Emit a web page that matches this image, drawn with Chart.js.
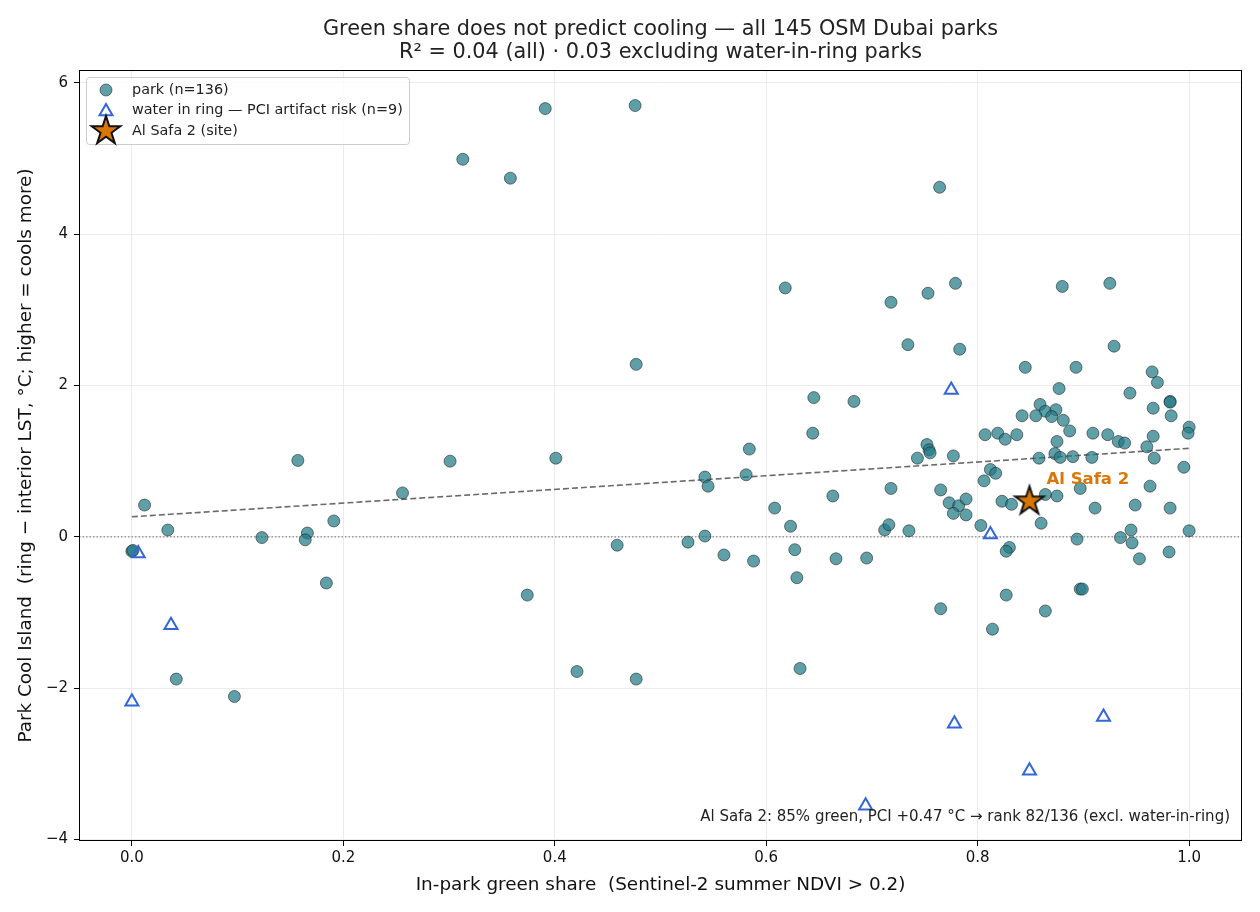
<!DOCTYPE html>
<html>
<head>
<meta charset="utf-8">
<script src="https://cdn.jsdelivr.net/npm/chart.js@4.4.1/dist/chart.umd.min.js"></script>
<style>
  html, body { margin: 0; padding: 0; background: #fff; }
  canvas { display: block; }
</style>
</head>
<body>
<canvas id="pci" width="1260" height="912"></canvas>
<script>
// ---- data ----
const parkX = [0.000, 0.001, 0.012, 0.034, 0.042, 0.097, 0.123, 0.157, 0.166, 0.164, 0.184, 0.191, 0.256,
  0.301, 0.401, 0.459, 0.526, 0.374, 0.421, 0.477, 0.391, 0.476, 0.313, 0.358, 0.477,
  0.542, 0.542, 0.545, 0.560, 0.581, 0.584, 0.588, 0.608, 0.618, 0.623, 0.627, 0.629, 0.632,
  0.644, 0.645, 0.663, 0.666, 0.683, 0.695, 0.712, 0.716, 0.718, 0.718, 0.734, 0.735,
  0.764, 0.753, 0.779, 0.783, 0.880, 0.925, 0.929, 0.845, 0.893, 0.965, 0.970, 0.877, 0.944,
  0.982, 0.982, 0.859, 0.864, 0.874, 0.842, 0.855, 0.870, 0.881, 0.966, 0.983, 1.000, 0.999,
  0.887, 0.807, 0.819, 0.826, 0.837, 0.909, 0.923, 0.933, 0.939, 0.966, 0.875, 0.960,
  0.752, 0.754, 0.755, 0.777, 0.743, 0.873, 0.878, 0.890, 0.908, 0.858, 0.967,
  0.995, 0.812, 0.817, 0.806, 0.765, 0.773, 0.782, 0.789, 0.777, 0.789, 0.803,
  0.823, 0.832, 0.864, 0.875, 0.897, 0.911, 0.860, 0.949, 0.963, 0.982, 0.945, 1.000,
  0.894, 0.935, 0.946, 0.830, 0.827, 0.953, 0.981, 0.897, 0.899, 0.827, 0.765, 0.864, 0.814];
const parkY = [-0.19, -0.18, 0.42, 0.09, -1.88, -2.11, -0.01, 1.01, 0.05, -0.04, -0.61, 0.21, 0.58,
  1.00, 1.04, -0.11, -0.07, -0.77, -1.78, -1.88, 5.66, 5.70, 4.99, 4.74, 2.28,
  0.01, 0.79, 0.67, -0.24, 0.82, 1.16, -0.32, 0.38, 3.29, 0.14, -0.17, -0.54, -1.74,
  1.37, 1.84, 0.54, -0.29, 1.79, -0.28, 0.09, 0.16, 0.64, 3.10, 2.54, 0.08,
  4.62, 3.22, 3.35, 2.48, 3.31, 3.35, 2.52, 2.24, 2.24, 2.18, 2.04, 1.96, 1.90,
  1.79, 1.78, 1.75, 1.66, 1.68, 1.60, 1.60, 1.59, 1.54, 1.70, 1.60, 1.45, 1.37,
  1.40, 1.35, 1.37, 1.29, 1.35, 1.37, 1.35, 1.26, 1.24, 1.33, 1.26, 1.19,
  1.22, 1.15, 1.11, 1.07, 1.04, 1.10, 1.05, 1.06, 1.05, 1.04, 1.04,
  0.92, 0.89, 0.84, 0.74, 0.62, 0.45, 0.41, 0.50, 0.31, 0.29, 0.15,
  0.47, 0.43, 0.56, 0.54, 0.64, 0.38, 0.18, 0.42, 0.67, 0.38, 0.09, 0.08,
  -0.03, -0.01, -0.08, -0.14, -0.19, -0.29, -0.20, -0.69, -0.69, -0.77, -0.95, -0.98, -1.22];

const waterX = [0.006, 0.037, 0.000, 0.694, 0.775, 0.778, 0.812, 0.849, 0.919];
const waterY = [-0.22, -1.17, -2.18, -3.555, 1.94, -2.47, 0.03, -3.09, -2.38];

const siteX = [0.849];
const siteY = [0.47];

const trendX = [0.0, 1.0];
const trendY = [0.265, 1.17];

const xTicks = [0.0, 0.2, 0.4, 0.6, 0.8, 1.0];
const yTicks = [-4, -2, 0, 2, 4, 6];
const xRange = [-0.05, 1.05];
const yRange = [-4.02, 6.17];

const titleLines = ['Green share does not predict cooling \u2014 all 145 OSM Dubai parks',
                    'R\u00b2 = 0.04 (all) \u00b7 0.03 excluding water-in-ring parks'];
const legendLabels = ['park (n=136)', 'water in ring \u2014 PCI artifact risk (n=9)', 'Al Safa 2 (site)'];
const siteLabel = 'Al Safa 2';
const noteText = 'Al Safa 2: 85% green, PCI +0.47 \u00b0C \u2192 rank 82/136 (excl. water-in-ring)';

// ---- styling ----
const FONT = '"DejaVu Sans", sans-serif';
const parkFill = 'rgba(32,122,134,0.72)';
const parkEdge = 'rgba(30,30,30,0.7)';
const waterColor = '#3366dd';
const siteColor = '#d97706';

const zip = (xs, ys) => xs.map((x, i) => ({ x: x, y: ys[i] }));

function makeStar(R, fill, stroke, lw) {
  const s = Math.ceil(2 * R + 14);
  const c = document.createElement('canvas');
  c.width = s; c.height = s;
  const g = c.getContext('2d');
  g.translate(s / 2, s / 2);
  g.beginPath();
  for (let i = 0; i < 10; i++) {
    const r = i % 2 ? R * 0.382 : R;
    const a = -Math.PI / 2 + i * Math.PI / 5;
    g.lineTo(r * Math.cos(a), r * Math.sin(a));
  }
  g.closePath();
  g.fillStyle = fill; g.fill();
  g.lineWidth = lw; g.lineJoin = 'miter'; g.strokeStyle = stroke; g.stroke();
  return c;
}
const starImg = makeStar(15, siteColor, '#111', 2);

// titles, frame, legend and text notes
const overlay = {
  id: 'overlay',
  afterDraw(chart) {
    const { ctx, chartArea: a } = chart;
    const xs = chart.scales.x, ys = chart.scales.y;
    ctx.save();

    ctx.strokeStyle = '#000';
    ctx.lineWidth = 1;
    ctx.strokeRect(a.left + 0.5, a.top + 0.5, a.right - a.left - 1, a.bottom - a.top - 1);

    ctx.fillStyle = '#222';
    ctx.textAlign = 'center';
    ctx.textBaseline = 'middle';
    ctx.font = '20.8px ' + FONT;
    const cx = (a.left + a.right) / 2;
    ctx.fillText(titleLines[0], cx, 30);
    ctx.fillText(titleLines[1], cx, 53);

    // legend box
    ctx.beginPath();
    ctx.roundRect(86.5, 77.5, 323, 67, 3);
    ctx.fillStyle = 'rgba(255,255,255,0.8)';
    ctx.fill();
    ctx.strokeStyle = '#cccccc';
    ctx.stroke();

    const mx = 106, rows = [90, 110, 131];
    ctx.beginPath();
    ctx.arc(mx, rows[0], 6, 0, Math.PI * 2);
    ctx.fillStyle = parkFill; ctx.fill();
    ctx.lineWidth = 0.8; ctx.strokeStyle = parkEdge; ctx.stroke();

    const r = 7.5;
    ctx.beginPath();
    for (let i = 0; i < 3; i++) {
      const ang = i * 2 * Math.PI / 3;
      ctx.lineTo(mx + Math.sin(ang) * r, rows[1] + 1.5 - Math.cos(ang) * r);
    }
    ctx.closePath();
    ctx.lineWidth = 2; ctx.strokeStyle = waterColor; ctx.stroke();

    ctx.drawImage(starImg, mx - starImg.width / 2, rows[2] - starImg.height / 2);

    ctx.fillStyle = '#222';
    ctx.textAlign = 'left';
    ctx.font = '14.4px ' + FONT;
    legendLabels.forEach((t, i) => ctx.fillText(t, 132, rows[i]));

    // site label
    ctx.font = 'bold 16.5px ' + FONT;
    ctx.fillStyle = siteColor;
    ctx.fillText(siteLabel, xs.getPixelForValue(siteX[0]) + 17, ys.getPixelForValue(siteY[0]) - 22);

    // bottom-right note
    ctx.font = '15px ' + FONT;
    ctx.fillStyle = '#222';
    ctx.textAlign = 'right';
    ctx.fillText(noteText, a.right - 12, a.bottom - 24);

    ctx.restore();
  }
};

new Chart(document.getElementById('pci'), {
  type: 'scatter',
  data: {
    datasets: [
      {
        label: legendLabels[2],
        data: zip(siteX, siteY),
        pointStyle: starImg,
        pointRadius: 16,
        order: 0
      },
      {
        label: legendLabels[1],
        data: zip(waterX, waterY),
        pointStyle: 'triangle',
        pointRadius: 7.5,
        backgroundColor: 'rgba(0,0,0,0)',
        borderColor: waterColor,
        borderWidth: 2,
        order: 1
      },
      {
        label: legendLabels[0],
        data: zip(parkX, parkY),
        pointStyle: 'circle',
        pointRadius: 6,
        backgroundColor: parkFill,
        borderColor: parkEdge,
        borderWidth: 0.8,
        order: 2
      },
      {
        type: 'line',
        label: 'trend',
        data: zip(trendX, trendY),
        borderColor: 'rgba(90,90,90,0.9)',
        borderWidth: 1.6,
        borderDash: [6, 3],
        pointRadius: 0,
        fill: false,
        order: 3
      },
      {
        type: 'line',
        label: 'zero',
        data: zip(xRange, [0, 0]),
        borderColor: '#888',
        borderWidth: 1.2,
        borderDash: [1.5, 2],
        pointRadius: 0,
        fill: false,
        order: 4
      }
    ]
  },
  options: {
    responsive: false,
    devicePixelRatio: 1,
    animation: false,
    events: [],
    layout: { padding: { top: 70, right: 18, left: 0, bottom: 0 } },
    plugins: {
      legend: { display: false },
      title: { display: false },
      tooltip: { enabled: false }
    },
    scales: {
      x: {
        type: 'linear',
        min: xRange[0],
        max: xRange[1],
        afterBuildTicks: s => { s.ticks = xTicks.map(v => ({ value: v })); },
        afterFit: s => { s.height = 71; },
        grid: { color: '#ebebeb', lineWidth: 1, drawTicks: true, tickLength: 5, tickColor: '#000', tickWidth: 1 },
        border: { display: false },
        ticks: {
          padding: 3,
          color: '#111',
          font: { family: FONT, size: 15 },
          callback: v => v.toFixed(1)
        },
        title: {
          display: true,
          text: 'In-park green share  (Sentinel-2 summer NDVI > 0.2)',
          color: '#111',
          font: { family: FONT, size: 18.4 },
          padding: { top: 0, bottom: 16 }
        }
      },
      y: {
        type: 'linear',
        min: yRange[0],
        max: yRange[1],
        afterBuildTicks: s => { s.ticks = yTicks.map(v => ({ value: v })); },
        afterFit: s => { s.width = 79; },
        grid: { color: '#ebebeb', lineWidth: 1, drawTicks: true, tickLength: 5, tickColor: '#000', tickWidth: 1 },
        border: { display: false },
        ticks: {
          padding: 6,
          color: '#111',
          font: { family: FONT, size: 15 },
          callback: v => (v < 0 ? '\u2212' + Math.abs(v) : String(v))
        },
        title: {
          display: true,
          text: 'Park Cool Island  (ring \u2212 interior LST, \u00b0C; higher = cools more)',
          color: '#111',
          font: { family: FONT, size: 18.4 },
          padding: { top: 15, bottom: 0 }
        }
      }
    }
  },
  plugins: [overlay]
});
</script>
</body>
</html>
